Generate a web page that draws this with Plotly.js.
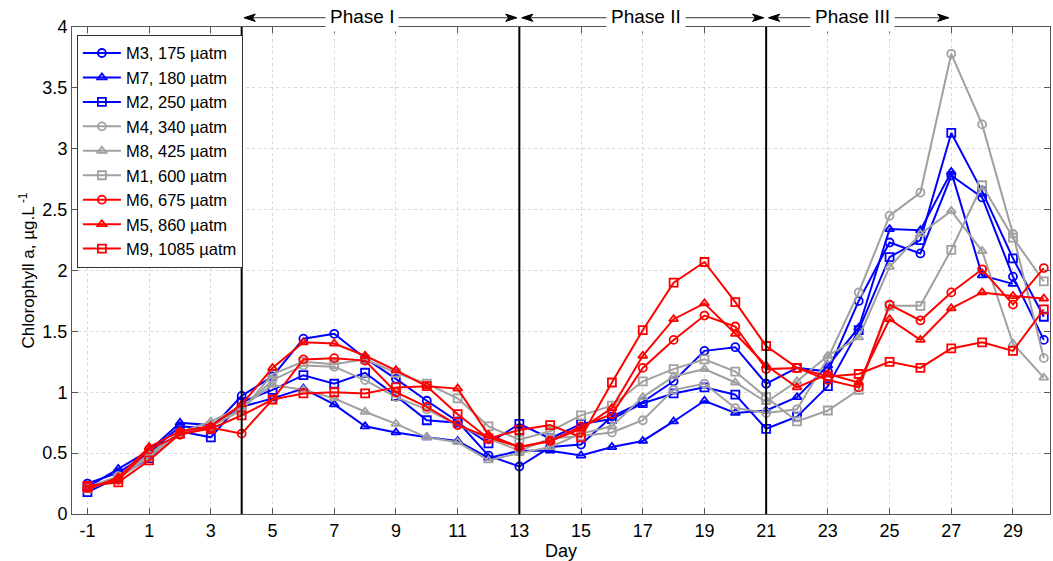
<!DOCTYPE html>
<html>
<head>
<meta charset="utf-8">
<script src="https://cdn.plot.ly/plotly-3.0.1.min.js"></script>
<style>
  html, body { margin: 0; padding: 0; background: #fff; }
  #chart { width: 1053px; height: 561px; }
</style>
</head>
<body>
<div id="chart"></div>
<script>
// Sampling days
const days = [-1,0,1,2,3,4,5,6,7,8,9,10,11,12,13,14,15,16,17,18,19,20,21,22,23,24,25,26,27,28,29,30];

// Chlorophyll a (µg/L) per mesocosm
const M3 = [0.25,0.34,0.50,0.72,0.70,0.97,1.13,1.44,1.48,1.28,1.11,0.93,0.76,0.48,0.39,0.55,0.57,0.80,0.92,1.09,1.34,1.37,1.07,1.20,1.17,1.75,2.23,2.14,2.78,2.60,1.95,1.43];
const M7 = [0.22,0.37,0.52,0.75,0.73,0.88,0.95,1.03,0.90,0.72,0.67,0.63,0.60,0.46,0.52,0.52,0.48,0.55,0.60,0.76,0.93,0.83,0.85,0.96,1.22,1.53,2.34,2.33,2.81,1.96,1.89,null];
const M2 = [0.18,0.30,0.46,0.68,0.63,0.92,1.02,1.14,1.07,1.16,0.97,0.77,0.75,0.58,0.74,0.62,0.74,0.78,0.91,0.99,1.04,0.98,0.70,0.80,1.05,1.51,2.11,2.25,3.13,2.65,2.10,1.62];
const M4 = [0.22,0.31,0.48,0.66,0.73,0.86,1.10,1.22,1.21,1.10,0.96,0.86,0.73,0.62,0.52,0.62,0.64,0.67,0.77,1.02,1.07,0.87,0.83,0.86,1.28,1.82,2.45,2.64,3.78,3.20,2.30,1.28];
const M8 = [0.20,0.30,0.49,0.67,0.76,0.88,1.06,1.02,0.95,0.84,0.74,0.63,0.59,0.44,0.50,0.55,0.66,0.72,0.96,1.13,1.19,1.08,0.92,1.09,1.30,1.45,2.03,2.30,2.49,2.16,1.40,1.12];
const M1 = [0.21,0.29,0.47,0.66,0.72,0.85,1.15,1.25,1.23,1.27,1.16,1.07,0.95,0.72,0.61,0.68,0.81,0.89,1.09,1.19,1.27,1.17,0.96,0.76,0.85,1.02,1.71,1.71,2.17,2.70,2.27,1.91];
const M6 = [0.22,0.28,0.53,0.65,0.71,0.66,0.94,1.27,1.28,1.26,1.00,0.88,0.73,0.63,0.55,0.60,0.72,0.82,1.20,1.43,1.63,1.54,1.19,1.20,1.10,1.04,1.72,1.59,1.82,2.01,1.72,2.02];
const M5 = [0.20,0.30,0.55,0.68,0.72,0.90,1.20,1.41,1.40,1.30,1.18,1.05,1.03,0.65,0.55,0.60,0.70,0.87,1.30,1.60,1.73,1.48,1.22,1.04,1.15,1.08,1.60,1.43,1.69,1.82,1.79,1.77];
const M9 = [0.23,0.26,0.44,0.66,0.70,0.81,0.94,0.99,1.00,0.99,1.04,1.05,0.82,0.62,0.69,0.73,0.63,1.08,1.51,1.90,2.07,1.74,1.38,1.20,1.13,1.15,1.25,1.20,1.36,1.41,1.34,1.68];

// Legend labels
const names = ['M3, 175 µatm','M7, 180 µatm','M2, 250 µatm','M4, 340 µatm','M8, 425 µatm','M1, 600 µatm','M6, 675 µatm','M5, 860 µatm','M9, 1085 µatm'];

// X tick positions and labels
const xTickVals = [-1,1,3,5,7,9,11,13,15,17,19,21,23,25,27,29];
const xTickText = ['-1','1','3','5','7','9','11','13','15','17','19','21','23','25','27','29'];

// Phase boundaries (days), label centres and labels
const phaseStart = [4, 13, 21];
const phaseEnd = [13, 21, 27];
const phaseLabelAt = [7.9, 17.1, 23.8];
const phaseLabels = ['Phase I', 'Phase II', 'Phase III'];

const FONT = 'Liberation Sans, Arial, sans-serif';
const BLUE = '#0000ff', GRAY = '#a0a0a0', RED = '#ff0000';
const seriesData = [M3, M7, M2, M4, M8, M1, M6, M5, M9];
const colors = [BLUE, BLUE, BLUE, GRAY, GRAY, GRAY, RED, RED, RED];
const symbols = ['circle-open','triangle-up-open','square-open','circle-open','triangle-up-open','square-open','circle-open','triangle-up-open','square-open'];

const traces = seriesData.map((ys, i) => ({
  x: days, y: ys, name: names[i], type: 'scatter', mode: 'lines+markers',
  connectgaps: false,
  line: { color: colors[i], width: 2 },
  marker: { symbol: symbols[i], size: 8, color: colors[i], line: { color: colors[i], width: 1.8 } }
}));

// Vertical phase separators
const shapes = phaseStart.map(d => ({
  type: 'line', xref: 'x', yref: 'y', x0: d, x1: d, y0: 0, y1: 4,
  line: { color: '#000', width: 2 }
}));

// Double-headed arrows above the plot (line + filled heads)
const arrowY = 1.019;       // paper units
const headLen = 0.36;       // days
const headHalf = 0.0075;    // paper units
phaseStart.forEach((s, i) => {
  const a = s + 0.08, b = phaseEnd[i] - 0.08;
  shapes.push({
    type: 'line', xref: 'x', yref: 'paper', x0: a, x1: b, y0: arrowY, y1: arrowY,
    line: { color: '#333', width: 1 }
  });
  shapes.push({
    type: 'path', xref: 'x', yref: 'paper', fillcolor: '#000', line: { color: '#000', width: 1 },
    path: `M ${a},${arrowY} L ${a + headLen},${arrowY + headHalf} L ${a + headLen * 0.75},${arrowY} L ${a + headLen},${arrowY - headHalf} Z`
  });
  shapes.push({
    type: 'path', xref: 'x', yref: 'paper', fillcolor: '#000', line: { color: '#000', width: 1 },
    path: `M ${b},${arrowY} L ${b - headLen},${arrowY + headHalf} L ${b - headLen * 0.75},${arrowY} L ${b - headLen},${arrowY - headHalf} Z`
  });
});

const annotations = phaseLabels.map((t, i) => ({
  x: phaseLabelAt[i], y: arrowY, xref: 'x', yref: 'paper', text: t,
  xanchor: 'center', yanchor: 'middle',
  showarrow: false, bgcolor: '#fff', borderpad: 4, yshift: 1,
  font: { family: FONT, size: 19, color: '#000' }
}));

const axisFont = { family: FONT, size: 18, color: '#000' };

const layout = {
  width: 1053, height: 561,
  margin: { l: 72, r: 3, t: 27, b: 47 },
  paper_bgcolor: '#fff', plot_bgcolor: '#fff',
  showlegend: true,
  legend: {
    x: 0.005, y: 0.984, xanchor: 'left', yanchor: 'top',
    bgcolor: '#fff', bordercolor: '#333', borderwidth: 1,
    font: { family: FONT, size: 16.5, color: '#000' },
    tracegroupgap: 0, itemwidth: 38
  },
  xaxis: {
    range: [-1.5, 30.2], tickmode: 'array',
    tickvals: xTickVals, ticktext: xTickText,
    ticks: 'inside', ticklen: 6, tickcolor: '#555', mirror: 'ticks',
    showline: true, linecolor: '#555', linewidth: 1,
    showgrid: true, gridcolor: '#d8d8d8', griddash: 'dot', gridwidth: 1,
    zeroline: false, tickfont: axisFont,
    title: { text: 'Day', font: axisFont, standoff: 2 }
  },
  yaxis: {
    range: [0, 4], dtick: 0.5,
    ticks: 'inside', ticklen: 6, tickcolor: '#555', mirror: 'ticks',
    showline: true, linecolor: '#555', linewidth: 1,
    showgrid: true, gridcolor: '#d8d8d8', griddash: 'dot', gridwidth: 1,
    zeroline: false, tickfont: axisFont,
    title: { text: 'Chlorophyll a, µg.L<sup> -1</sup>', font: { family: FONT, size: 17, color: '#000' }, standoff: 3 }
  },
  shapes: shapes,
  annotations: annotations
};

Plotly.newPlot('chart', traces, layout, { displayModeBar: false, staticPlot: true });
</script>
</body>
</html>
